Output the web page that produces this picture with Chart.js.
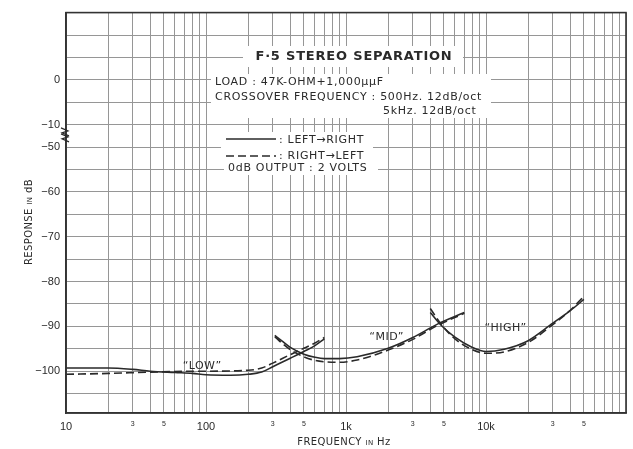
<!DOCTYPE html>
<html><head><meta charset="utf-8">
<script src="https://cdn.jsdelivr.net/npm/chart.js@4.4.0/dist/chart.umd.min.js"></script>
<style>html,body{margin:0;padding:0;background:#fff;}</style>
</head><body>
<canvas id="c" width="633" height="449"></canvas>
<script>
// ---------- DATA (frequency in Hz, response in dB) ----------
const lowFreq   = [10, 15, 20, 30, 40, 60, 80, 100, 150, 200, 250, 300, 400, 500, 600, 700];
const lowLR     = [-99.3, -99.3, -99.3, -99.6, -100.0, -100.3, -100.5, -100.8, -100.9, -100.7, -100.2, -99.0, -97.1, -95.6, -94.3, -92.8];
const lowRLFreq = [10, 20, 40, 80, 100, 200, 250, 300, 400, 500, 600, 700];
const lowRL     = [-100.7, -100.5, -100.2, -100.0, -100.0, -99.8, -99.3, -98.2, -96.3, -94.9, -93.7, -92.5];

const midFreq   = [310, 350, 400, 500, 600, 700, 900, 1200, 2000, 3000, 4500, 7000];
const midLR     = [-92.0, -93.3, -94.7, -96.2, -96.9, -97.2, -97.2, -96.8, -94.9, -92.5, -89.5, -86.9];
const midRL     = [-92.3, -93.8, -95.2, -96.8, -97.6, -97.9, -98.0, -97.5, -95.3, -92.9, -89.8, -87.1];

const highFreq  = [4000, 4800, 6000, 8000, 10000, 13500, 20000, 30000, 40000, 50000];
const highLR    = [-86.9, -89.8, -92.4, -94.7, -95.6, -95.1, -93.2, -89.3, -86.5, -84.0];
const highRL    = [-86.0, -89.6, -92.8, -95.2, -96.0, -95.7, -93.6, -89.6, -86.4, -83.3];

// tick labels
const xLabelValues = [10, 30, 50, 100, 300, 500, 1000, 3000, 5000, 10000, 30000, 50000];
const xLabels      = ['10', '3', '5', '100', '3', '5', '1k', '3', '5', '10k', '3', '5'];
const xMajorValues = [10, 100, 1000, 10000];
const yLabelDb     = [0, -10, -50, -60, -70, -80, -90, -100];
const yLabels      = ['0', '\u221210', '\u221250', '\u221260', '\u221270', '\u221280', '\u221290', '\u2212100'];

// region labels (frequency, dB)
const regionNames = ['\u201CLOW\u201D', '\u201CMID\u201D', '\u201CHIGH\u201D'];
const regionFreq  = [94, 1950, 13800];
const regionDb    = [-98.8, -92.4, -90.4];

// ---------- broken axis mapping ----------
const BREAK_SHIFT = 35; // -50 dB is drawn where -15 would be
function toAxis(db){ return db <= -50 ? db + BREAK_SHIFT : db; }
function pts(f, v){ return f.map((x,i)=>({x:x, y:toAxis(v[i])})); }

const INK = '#2a2a2a';
const FONT = '"Liberation Sans", Arial, Helvetica, sans-serif';
const AFONT = '"DejaVu Sans", Verdana, sans-serif';

function ds(label, f, v, dashed){
  return {label, data: pts(f, v), borderColor: INK, borderWidth: 1.6,
    borderDash: dashed ? [8,4] : [], pointRadius: 0, fill: false,
    cubicInterpolationMode: 'monotone', showLine: true};
}

// grid lines
const xGrid = [];
for (let d = 10; d < 100000; d *= 10) for (let m = 1; m <= 9; m++) xGrid.push(m*d);
xGrid.push(100000);
const yGrid = [];
for (let v = 15; v >= -70; v -= 5) yGrid.push(v);

const decor = {
  id: 'decor',
  beforeDatasetsDraw(chart){
    const c = chart.ctx;
    c.save();
    c.fillStyle = '#fff';
    c.fillRect(243, 46, 220, 21);
    c.fillRect(211, 74, 280, 44);
    c.fillRect(221, 132, 152, 31);
    c.fillRect(224, 162, 154, 13);
    c.restore();
  },
  afterDatasetsDraw(chart){
    const c = chart.ctx, a = chart.chartArea, xs = chart.scales.x, ys = chart.scales.y;
    c.save();
    // frame
    c.strokeStyle = '#333'; c.lineWidth = 1.6;
    c.strokeRect(a.left, a.top, a.right - a.left, a.bottom - a.top);
    // axis break mark
    const y1 = ys.getPixelForValue(toAxis(-10)), y2 = ys.getPixelForValue(toAxis(-50));
    const ym = (y1 + y2) / 2 - 1;
    c.lineWidth = 1.2; c.strokeStyle = INK;
    for (const off of [-3, 3]) {
      c.beginPath();
      c.moveTo(a.left - 5, ym + off - 4);
      c.lineTo(a.left + 2, ym + off - 1);
      c.lineTo(a.left - 4, ym + off + 1);
      c.lineTo(a.left + 3, ym + off + 4);
      c.stroke();
    }
    // texts
    c.fillStyle = INK; c.textBaseline = 'middle';
    c.textAlign = 'center';
    c.letterSpacing = '0.8px';
    c.font = 'bold 13px ' + AFONT;
    c.fillText('F\u00B75 STEREO SEPARATION', 354, 57);
    c.textAlign = 'left';
    c.letterSpacing = '0.7px';
    c.font = '11px ' + AFONT;
    c.fillText('LOAD : 47K-OHM+1,000\u03BC\u03BCF', 215, 82);
    c.fillText('CROSSOVER FREQUENCY : 500Hz. 12dB/oct', 215, 97);
    c.fillText('5kHz. 12dB/oct', 383, 111);
    c.fillText(': LEFT\u2192RIGHT', 279, 140);
    c.fillText(': RIGHT\u2192LEFT', 279, 156);
    c.fillText('0dB OUTPUT : 2 VOLTS', 228, 168);
    c.letterSpacing = '0px';
    // legend samples
    c.lineWidth = 1.6; c.strokeStyle = INK;
    c.beginPath(); c.moveTo(226, 139); c.lineTo(276, 139); c.stroke();
    c.setLineDash([8,4]);
    c.beginPath(); c.moveTo(226, 156); c.lineTo(276, 156); c.stroke();
    c.setLineDash([]);
    // region labels
    c.textAlign = 'center';
    c.letterSpacing = '0.5px';
    c.font = '11px ' + AFONT;
    regionNames.forEach((t,i)=>{
      c.fillText(t, xs.getPixelForValue(regionFreq[i]), ys.getPixelForValue(toAxis(regionDb[i])));
    });
    c.letterSpacing = '0px';
    c.restore();
  },
  afterDraw(chart){
    const c = chart.ctx, a = chart.chartArea;
    c.save();
    c.fillStyle = INK; c.textBaseline = 'alphabetic';
    c.letterSpacing = '0.4px';
    function mixed(parts, cx, cy){
      let w = 0;
      parts.forEach(p=>{ c.font = p[1] + 'px ' + AFONT; w += c.measureText(p[0]).width; });
      let x = cx - w/2;
      c.textAlign = 'left';
      parts.forEach(p=>{ c.font = p[1] + 'px ' + AFONT; c.fillText(p[0], x, cy); x += c.measureText(p[0]).width; });
    }
    mixed([['FREQUENCY ',10],['IN',7],[' Hz',10]], (a.left + a.right)/2 - 2, 445);
    c.translate(32, 222);
    c.rotate(-Math.PI/2);
    mixed([['RESPONSE ',10],['IN',7],[' dB',10]], 0, 0);
    c.restore();
  }
};

new Chart(document.getElementById('c'), {
  type: 'scatter',
  data: { datasets: [
    ds('LOW L\u2192R', lowFreq, lowLR, false),
    ds('LOW R\u2192L', lowRLFreq, lowRL, true),
    ds('MID L\u2192R', midFreq, midLR, false),
    ds('MID R\u2192L', midFreq, midRL, true),
    ds('HIGH L\u2192R', highFreq, highLR, false),
    ds('HIGH R\u2192L', highFreq, highRL, true)
  ]},
  options: {
    responsive: false, animation: false,
    layout: { padding: { top: 12, right: 5, left: 0, bottom: 0 } },
    plugins: { legend: { display: false }, tooltip: { enabled: false } },
    scales: {
      x: {
        type: 'logarithmic', min: 10, max: 100000,
        afterBuildTicks(s){ s.ticks = xGrid.map(v=>({value: v})); },
        afterFit(s){ s.height = 36; },
        grid: { color: '#969696', lineWidth: 1, drawTicks: false },
        border: { display: true, color: '#333', width: 1.6 },
        ticks: {
          autoSkip: false, maxRotation: 0, minRotation: 0, padding: 7, color: INK,
          font: (ctx) => {
            const v = ctx.tick ? ctx.tick.value : 0;
            return { family: FONT, size: xMajorValues.some(m => Math.abs(m - v) < 1e-6) ? 11 : 7 };
          },
          callback: (v) => { const i = xLabelValues.findIndex(m => Math.abs(m - v) < 1e-6); return i >= 0 ? xLabels[i] : ''; }
        }
      },
      y: {
        type: 'linear', min: -74.33, max: 15,
        afterBuildTicks(s){ s.ticks = yGrid.map(v=>({value: v})); },
        afterFit(s){ s.width = 66; },
        grid: { color: '#969696', lineWidth: 1, drawTicks: false },
        border: { display: true, color: '#333', width: 1.6 },
        ticks: {
          autoSkip: false, padding: 6, color: INK, font: { family: FONT, size: 11 },
          callback: (v) => { const i = yLabelDb.findIndex(d => Math.abs(toAxis(d) - v) < 1e-6); return i >= 0 ? yLabels[i] : ''; }
        }
      }
    }
  },
  plugins: [decor]
});
</script>
</body></html>
